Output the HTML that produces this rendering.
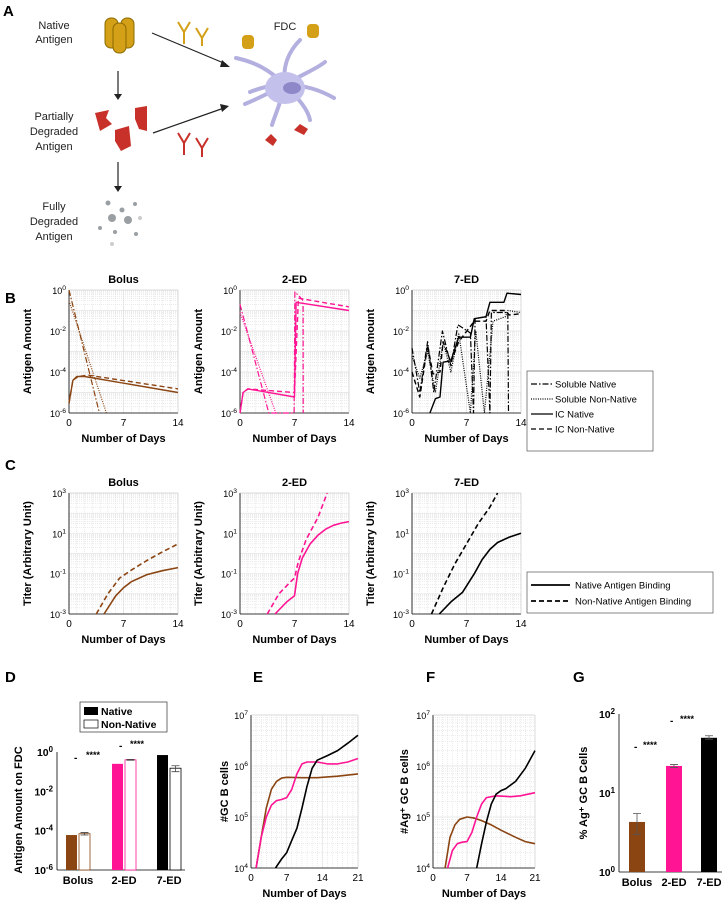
<!DOCTYPE html>
<html><head><meta charset="utf-8"><style>
body{margin:0;background:#fff}
svg{display:block;font-family:"Liberation Sans",sans-serif}
</style></head><body>
<svg id="fig" width="728" height="900" viewBox="0 0 728 900">
<g>
<text x="3" y="16" font-size="15" font-weight="bold">A</text>
<g font-size="11" text-anchor="middle" fill="#222">
<text x="54" y="29"><tspan x="54">Native</tspan><tspan x="54" dy="14">Antigen</tspan></text>
<text x="54" y="120"><tspan x="54">Partially</tspan><tspan x="54" dy="15">Degraded</tspan><tspan x="54" dy="15">Antigen</tspan></text>
<text x="54" y="210"><tspan x="54">Fully</tspan><tspan x="54" dy="15">Degraded</tspan><tspan x="54" dy="15">Antigen</tspan></text>
<text x="285" y="30">FDC</text>
</g>
<g fill="#d4a017" stroke="#8a6a00" stroke-width="1">
<rect x="105" y="18" width="13" height="30" rx="6"/><rect x="121" y="18" width="13" height="30" rx="6"/><rect x="113" y="23" width="13" height="30" rx="6"/>
</g>
<g stroke="#222" stroke-width="1.2" fill="#222">
<line x1="118" y1="71" x2="118" y2="95"/><polygon points="114,94 122,94 118,100" stroke="none"/>
<line x1="118" y1="162" x2="118" y2="187"/><polygon points="114,186 122,186 118,192" stroke="none"/>
<line x1="152" y1="33" x2="226" y2="64"/><polygon points="222,60 230,67 220,67" stroke="none"/>
<line x1="153" y1="133" x2="224" y2="108"/><polygon points="220,104 229,106 222,112" stroke="none"/>
</g>
<g fill="#c8302a">
<path d="M95,113 l14,-3 l-3,8 l6,6 l-12,7 z"/><path d="M135,108 l12,-2 l0,25 l-8,-2 l-4,-10 z"/><path d="M115,130 l14,-4 l2,20 l-10,5 l-6,-10 z"/>
</g>
<g stroke="#d4a017" stroke-width="2" fill="none">
<path d="M178,22 l6,10 l6,-10 M184,32 v12"/><path d="M196,28 l6,10 l6,-10 M202,38 v8"/>
</g>
<g stroke="#c8302a" stroke-width="2" fill="none">
<path d="M178,133 l6,10 l6,-10 M184,143 v12"/><path d="M196,138 l6,10 l6,-10 M202,148 v9"/>
</g>
<g fill="#9a9fa3">
<circle cx="112" cy="218" r="4"/><circle cx="128" cy="220" r="4"/><circle cx="108" cy="203" r="2.5"/><circle cx="122" cy="210" r="2.5"/><circle cx="135" cy="204" r="2"/><circle cx="100" cy="228" r="2"/><circle cx="115" cy="232" r="2"/><circle cx="136" cy="234" r="2"/><circle cx="112" cy="244" r="2" fill="#ccc"/><circle cx="140" cy="218" r="2" fill="#ccc"/>
</g>
<g stroke="#b3b0e0" stroke-width="4" fill="none" stroke-linecap="round">
<path d="M285,85 C270,70 255,62 236,58"/><path d="M285,85 C282,65 290,50 300,40"/><path d="M285,85 C300,75 315,70 325,62"/><path d="M285,85 C305,85 320,90 334,98"/><path d="M285,85 C300,100 308,110 310,120"/><path d="M285,85 C280,105 275,115 272,125"/><path d="M285,85 C265,95 255,100 245,104"/><path d="M285,85 C270,85 260,88 250,92"/>
<ellipse cx="285" cy="88" rx="20" ry="16" fill="#c4c0ec" stroke="none"/><ellipse cx="292" cy="88" rx="9" ry="6" fill="#8f88c8" stroke="none"/>
<rect x="242" y="35" width="12" height="14" rx="4" fill="#d4a017" stroke="none"/><rect x="307" y="24" width="12" height="14" rx="4" fill="#d4a017" stroke="none"/>
<path d="M265,140 l6,-6 l6,6 l-4,6 z" fill="#c8302a" stroke="none"/><path d="M294,130 l6,-6 l8,5 l-4,6 z" fill="#c8302a" stroke="none"/>
</g>
</g>
<g id="plots"></g>
</svg>
<script>
// ---------- data ----------
const bBolusSolNat=[[0,1],[3.9,1e-6]];
const bBolusSolNon=[[0,0.3],[4.8,1e-6]];
const bBolusICNat=[[0,3e-6],[0.5,4e-5],[1,6e-5],[2,6e-5],[14,1e-5]];
const bBolusICNon=[[0,3e-6],[0.5,4e-5],[1.2,6e-5],[2.5,7e-5],[14,1.5e-5]];
const b2SolNat=[[0,0.2],[3.7,1e-6],[6.95,1e-6],[7.05,0.8],[7.6,0.5],[8.1,0.3],[8.12,1e-6]];
const b2SolNon=[[0,0.08],[4.6,1e-6]];
const b2ICNat=[[0,1e-6],[0.4,1e-5],[1,1.5e-5],[7,6e-6],[7.2,0.25],[14,0.1]];
const b2ICNon=[[0,1e-6],[0.4,1e-5],[1,1.5e-5],[7,1e-5],[7.5,0.4],[14,0.15]];
const b7SolNat=[[0,1.5e-3],[1,1e-5],[2,3e-3],[2.8,1e-5],[3.9,1e-2],[5,2e-4],[5.9,2e-2],[7.5,8e-3],[7.9,1e-6],[8.1,4e-2],[9.5,5e-2],[10,1e-6],[10.2,0.08],[12.3,0.08],[12.4,1e-6]];
const b7SolNon=[[0,6e-4],[1,5e-5],[2,1e-3],[3,1e-5],[4,3e-3],[5,1e-4],[6,8e-3],[7.5,1e-6],[8.2,1e-2],[9.3,1e-6],[10.4,3e-2],[12,0.05],[12.3,0.1],[14,0.08]];
const b7ICNat=[[2.3,1e-6],[3,5e-6],[3.6,6e-6],[4,3e-4],[5,3.5e-4],[6,5e-3],[7.5,5e-3],[8,4e-2],[9.5,5e-2],[10,0.25],[11.8,0.25],[12.2,0.7],[14,0.6]];
const b7ICNon=[[0,1e-4],[1,6e-6],[2,2e-3],[2.7,8e-5],[3.6,1e-4],[4,3e-3],[5,3e-4],[6,3e-3],[8,3e-2],[9.5,3e-2],[10,0.1],[12,0.1],[12.5,0.06],[14,0.07]];
const cBolusNat=[[4.5,1e-3],[6,8e-3],[7,0.02],[8,0.04],[10,0.09],[12,0.14],[14,0.2]];
const cBolusNon=[[3.5,1e-3],[5,0.01],[6.5,0.06],[8,0.15],[10,0.45],[12,1.2],[14,3]];
const c2Nat=[[4.5,1e-3],[6,4e-3],[7,0.008],[7.4,0.1],[8,0.6],[9,3],[10,8],[11,16],[12,25],[13,32],[14,38]];
const c2Non=[[3.5,1e-3],[5,0.01],[6.5,0.04],[7,0.06],[7.5,0.4],[8.5,5],[10,60],[11.2,1000]];
const c7Nat=[[3.5,1e-3],[5,4e-3],[6.5,0.012],[8,0.1],[9,0.5],[10,1.6],[11,3.5],[12.5,6.5],[14,10]];
const c7Non=[[2.5,1e-3],[4,0.02],[5.5,0.3],[7,3],[8.5,30],[10,200],[11,1000]];
const dGroups=["Bolus","2-ED","7-ED"];
const dNative=[6e-5,0.25,0.7];
const dNonNative=[7e-5,0.4,0.15];
const dNonErrLo=[6e-5,0.38,0.1];
const dNonErrHi=[8e-5,0.42,0.2];
const eBolus=[[1,1e4],[2,4e4],[3,1.5e5],[4,3.5e5],[5,5e5],[6,5.8e5],[7,6e5],[10,5.9e5],[13,5.9e5],[17,6.3e5],[21,7e5]];
const e2ED=[[1,1e4],[2,4e4],[3,1e5],[4,1.7e5],[5,2.1e5],[6,2.2e5],[7,2.4e5],[8,3.5e5],[9,7e5],[10,1.1e6],[11,1.2e6],[13,1.2e6],[15,1.1e6],[17,1.1e6],[19,1.2e6],[21,1.4e6]];
const e7ED=[[4.8,1e4],[6,1.5e4],[7,2e4],[8,3.5e4],[9,6e4],[10,1.5e5],[11,4e5],[12,9e5],[13,1.3e6],[15,1.6e6],[17,2e6],[19,2.8e6],[21,4e6]];
const fBolus=[[2.5,1e4],[3.5,4e4],[4.5,7e4],[5.5,9e4],[7,1e5],[8.5,9.5e4],[10,8.5e4],[12,7e4],[14,5.5e4],[17,4e4],[19,3.3e4],[21,3e4]];
const f2ED=[[3,1e4],[4,2.2e4],[5,3e4],[6,3.2e4],[7,3.3e4],[8,5e4],[9,1e5],[10,1.8e5],[11,2.4e5],[13,2.6e5],[16,2.5e5],[18,2.6e5],[21,3e5]];
const f7ED=[[9,1e4],[10,3e4],[11,8e4],[12,1.8e5],[13,2.8e5],[14,3.3e5],[15,3.6e5],[17,5e5],[19,9e5],[21,2e6]];
const gGroups=["Bolus","2-ED","7-ED"];
const gValues=[4.3,22,50];
const gErrLo=[3,21,48];
const gErrHi=[5.5,23,53];

const BROWN="#8b4513",PINK="#ff1493",BLACK="#000";
const NS="http://www.w3.org/2000/svg";
const root=document.getElementById('plots');
function el(tag,attrs,parent,text){const e=document.createElementNS(NS,tag);for(const k in attrs)e.setAttribute(k,attrs[k]);if(text!==undefined)e.textContent=text;(parent||root).appendChild(e);return e;}
function supText(g,x,y,exp,fs){fs=fs||9;const t=el('text',{x:x,y:y,'text-anchor':'end','font-size':fs},g);
 const a=document.createElementNS(NS,'tspan');a.textContent='10';t.appendChild(a);
 const b=document.createElementNS(NS,'tspan');b.setAttribute('dy','-4');b.setAttribute('font-size',fs*0.75);b.textContent=exp;t.appendChild(b);return t;}

function logPlot(name,x0,x1,y0,y1,xmin,xmax,lmin,lmax,xticks,ylabStep,yLabel,yLabX,title,minorX){
 const g=el('g',{});
 
 
 const sx=v=>x0+(v-xmin)/(xmax-xmin)*(x1-x0);
 const sy=v=>y1-(Math.log10(v)-lmin)/(lmax-lmin)*(y1-y0);
 for(let d=lmin;d<lmax;d++)for(let m=2;m<=9;m++){const y=sy(m*Math.pow(10,d));el('line',{x1:x0,x2:x1,y1:y,y2:y,stroke:'#d8d8d8','stroke-width':0.5,'stroke-dasharray':'1,1'},g);}
 for(let x=xmin+minorX;x<xmax;x+=minorX){el('line',{x1:sx(x),x2:sx(x),y1:y0,y2:y1,stroke:'#d8d8d8','stroke-width':0.5,'stroke-dasharray':'1,1'},g);}
 for(let d=lmin;d<=lmax;d++){const y=sy(Math.pow(10,d));el('line',{x1:x0,x2:x1,y1:y,y2:y,stroke:'#e2e2e2','stroke-width':0.7},g);}
 xticks.forEach(t=>el('line',{x1:sx(t),x2:sx(t),y1:y0,y2:y1,stroke:'#e2e2e2','stroke-width':0.7},g));
 el('line',{x1:x0,x2:x0,y1:y0,y2:y1,stroke:'#000','stroke-width':0.8},g);
 el('line',{x1:x0,x2:x1,y1:y1,y2:y1,stroke:'#000','stroke-width':0.8},g);
 el('line',{x1:x1,x2:x1,y1:y0,y2:y1,stroke:'#ccc','stroke-width':0.5},g);
 el('line',{x1:x0,x2:x1,y1:y0,y2:y0,stroke:'#ccc','stroke-width':0.5},g);
 for(let d=lmin;d<=lmax;d+=ylabStep){const t=supText(g,x0-3,sy(Math.pow(10,d))+4,String(d));
  
  }
 xticks.forEach(v=>{const t=el('text',{x:sx(v),y:y1+13,'text-anchor':'middle','font-size':10},g,String(v));
  
  });
 const xl=el('text',{x:(x0+x1)/2,y:y1+29,'text-anchor':'middle','font-size':11,'font-weight':'bold'},g,'Number of Days');
 
 
 const yl=el('text',{x:yLabX,y:(y0+y1)/2,'text-anchor':'middle','font-size':11,'font-weight':'bold',transform:`rotate(-90 ${yLabX} ${(y0+y1)/2})`},g,yLabel);
 
 
 if(title){const tt=el('text',{x:(x0+x1)/2,y:y0-7,'text-anchor':'middle','font-size':11,'font-weight':'bold'},g,title);
  
  }
 return {g,sx,sy,x0,x1,y0,y1,lmin,lmax};
}
function series(p,data,color,dash,name,w){
 const lo=Math.pow(10,p.lmin),hi=Math.pow(10,p.lmax);
 const pts=data.map(([x,v])=>{const c=Math.min(hi,Math.max(lo,v));return p.sx(x).toFixed(1)+','+p.sy(c).toFixed(1);}).join(' ');
 const l=el('polyline',{points:pts,fill:'none',stroke:color,'stroke-width':w||1.4,'stroke-dasharray':dash||'none','stroke-linejoin':'round'},p.g);
 
 
}
const DD='6,2,1.5,2',DOT='1,1.3',DASH='5,3';
function label(txt,x,y){const t=el('text',{x:x,y:y,'font-size':15,'font-weight':'bold'},root,txt);
 
 }

// ---------- Panel B ----------
label('B',5,303);
const bSets=[["Bolus",69,BROWN,bBolusSolNat,bBolusSolNon,bBolusICNat,bBolusICNon],["2-ED",240,PINK,b2SolNat,b2SolNon,b2ICNat,b2ICNon],["7-ED",412,BLACK,b7SolNat,b7SolNon,b7ICNat,b7ICNon]];
bSets.forEach(s=>{const p=logPlot('panel-b-'+s[0].toLowerCase(),s[1],s[1]+109,290,413,0,14,-6,0,[0,7,14],2,'Antigen Amount',s[1]-38,s[0],1);
 series(p,s[3],s[2],DD,'soluble-native-line',1.2);series(p,s[4],s[2],DOT,'soluble-non-native-line',1.2);
 series(p,s[5],s[2],'none','ic-native-line');series(p,s[6],s[2],DASH,'ic-non-native-line');});
(function(){const g=el('g',{});
 el('rect',{x:527,y:371,width:126,height:80,fill:'#fff',stroke:'#555','stroke-width':0.7},g);
 [['Soluble Native',DD],['Soluble Non-Native',DOT],['IC Native','none'],['IC Non-Native',DASH]].forEach((e,i)=>{const y=384+i*15;
  const ln=el('line',{x1:531,x2:553,y1:y,y2:y,stroke:'#000','stroke-width':1.3,'stroke-dasharray':e[1]},g);
  
  
  const t=el('text',{x:555,y:y+3.5,'font-size':9.5},g,e[0]);
  
  });})();

// ---------- Panel C ----------
label('C',5,470);
const cSets=[["Bolus",69,BROWN,cBolusNat,cBolusNon],["2-ED",240,PINK,c2Nat,c2Non],["7-ED",412,BLACK,c7Nat,c7Non]];
cSets.forEach(s=>{const p=logPlot('panel-c-'+s[0].toLowerCase(),s[1],s[1]+109,493,614,0,14,-3,3,[0,7,14],2,'Titer (Arbitrary Unit)',s[1]-38,s[0],1);
 series(p,s[3],s[2],'none','native-binding-line',1.6);series(p,s[4],s[2],DASH,'non-native-binding-line',1.6);});
(function(){const g=el('g',{});
 el('rect',{x:527,y:572,width:186,height:41,fill:'#fff',stroke:'#555','stroke-width':0.7},g);
 [['Native Antigen Binding','none'],['Non-Native Antigen Binding',DASH]].forEach((e,i)=>{const y=585+i*16;
  const ln=el('line',{x1:531,x2:570,y1:y,y2:y,stroke:'#000','stroke-width':1.8,'stroke-dasharray':e[1]},g);
  
  
  const t=el('text',{x:575,y:y+3.5,'font-size':9.5},g,e[0]);
  
  });})();

// ---------- Panel D ----------
label('D',5,682);
(function(){const x0=57,x1=185,y0=752,y1=870,lmin=-6,lmax=0;
 const g=el('g',{});
 const sy=v=>y1-(Math.log10(v)-lmin)/(lmax-lmin)*(y1-y0);
 el('line',{x1:x0,x2:x0,y1:y0,y2:y1,stroke:'#000','stroke-width':0.8},g);
 el('line',{x1:x0,x2:x1,y1:y1,y2:y1,stroke:'#000','stroke-width':0.8},g);
 for(let d=lmin;d<=lmax;d+=2){const t=supText(g,x0-4,sy(Math.pow(10,d))+4,String(d),10.5);t.setAttribute('font-weight','bold');
  
  }
 const yl=el('text',{x:22,y:810,'text-anchor':'middle','font-size':11,'font-weight':'bold',transform:'rotate(-90 22 810)'},g,'Antigen Amount on FDC');
 
 
 const cols=[BROWN,PINK,BLACK],centers=[78,124,169];
 dGroups.forEach((name,i)=>{const cx=centers[i];
  const b1=el('rect',{x:cx-12,y:sy(dNative[i]),width:11,height:y1-sy(dNative[i]),fill:cols[i]},g);
  
  
  const b2=el('rect',{x:cx+1,y:sy(dNonNative[i]),width:11,height:y1-sy(dNonNative[i]),fill:'#fff',stroke:cols[i],'stroke-width':0.8},g);
  
  
  const ex=cx+6.5;el('path',{d:`M${ex},${sy(dNonErrLo[i])}V${sy(dNonErrHi[i])}M${ex-4},${sy(dNonErrLo[i])}h8M${ex-4},${sy(dNonErrHi[i])}h8`,stroke:'#444','stroke-width':0.8,fill:'none'},g);
  const t=el('text',{x:cx,y:y1+14,'text-anchor':'middle','font-size':11,'font-weight':'bold'},g,name);
  
  });
 el('text',{x:74,y:761,'font-size':10,'font-weight':'bold'},g,'-');
 el('text',{x:86,y:758,'font-size':9,'font-weight':'bold'},g,'****');
 el('text',{x:119,y:749,'font-size':10,'font-weight':'bold'},g,'-');
 el('text',{x:130,y:747,'font-size':9,'font-weight':'bold'},g,'****');
 const lg=el('g',{},g);
 el('rect',{x:80,y:702,width:87,height:30,fill:'#fff',stroke:'#333','stroke-width':0.7},lg);
 el('rect',{x:84,y:707,width:14,height:8,fill:'#000'},lg);
 el('rect',{x:84,y:720,width:14,height:8,fill:'#fff',stroke:'#000','stroke-width':0.7},lg);
 el('text',{x:101,y:715,'font-size':10.5,'font-weight':'bold'},lg,'Native');
 el('text',{x:101,y:728,'font-size':10.5,'font-weight':'bold'},lg,'Non-Native');})();

// ---------- Panels E, F ----------
label('E',253,682);
const pE=logPlot('panel-e-gc-b-cells',251,358,715,868,0,21,4,7,[0,7,14,21],1,'#GC B cells',228,null,1);
series(pE,eBolus,BROWN,'none','bolus-line',1.6);series(pE,e2ED,PINK,'none','2-ed-line',1.6);series(pE,e7ED,BLACK,'none','7-ed-line',1.6);
label('F',426,682);
const pF=logPlot('panel-f-ag-gc-b-cells',433,535,715,868,0,21,4,7,[0,7,14,21],1,'#Ag⁺ GC B cells',408,null,1);
series(pF,fBolus,BROWN,'none','bolus-line',1.6);series(pF,f2ED,PINK,'none','2-ed-line',1.6);series(pF,f7ED,BLACK,'none','7-ed-line',1.6);

// ---------- Panel G ----------
label('G',573,682);
(function(){const x0=619,x1=722,y0=714,y1=872,lmin=0,lmax=2;
 const g=el('g',{});
 const sy=v=>y1-(Math.log10(v)-lmin)/(lmax-lmin)*(y1-y0);
 el('line',{x1:x0,x2:x0,y1:y0,y2:y1,stroke:'#000','stroke-width':0.8},g);
 el('line',{x1:x0,x2:x1,y1:y1,y2:y1,stroke:'#000','stroke-width':0.8},g);
 for(let d=lmin;d<=lmax;d++){const t=supText(g,x0-4,sy(Math.pow(10,d))+4,String(d),10.5);t.setAttribute('font-weight','bold');
  
  }
 const yl=el('text',{x:587,y:793,'text-anchor':'middle','font-size':11,'font-weight':'bold',transform:'rotate(-90 587 793)'},g,'% Ag⁺ GC B Cells');
 
 
 const cols=[BROWN,PINK,BLACK],centers=[637,674,709];
 gGroups.forEach((name,i)=>{const cx=centers[i];
  const b=el('rect',{x:cx-8,y:sy(gValues[i]),width:16,height:y1-sy(gValues[i]),fill:cols[i]},g);
  
  
  el('path',{d:`M${cx},${sy(gErrLo[i])}V${sy(gErrHi[i])}M${cx-4},${sy(gErrLo[i])}h8M${cx-4},${sy(gErrHi[i])}h8`,stroke:'#555','stroke-width':0.8,fill:'none'},g);
  const t=el('text',{x:cx,y:y1+14,'text-anchor':'middle','font-size':11,'font-weight':'bold'},g,name);
  
  });
 el('text',{x:634,y:750,'font-size':10,'font-weight':'bold'},g,'-');
 el('text',{x:643,y:748,'font-size':9,'font-weight':'bold'},g,'****');
 el('text',{x:670,y:724,'font-size':10,'font-weight':'bold'},g,'-');
 el('text',{x:680,y:722,'font-size':9,'font-weight':'bold'},g,'****');})();
</script>
</body></html>
